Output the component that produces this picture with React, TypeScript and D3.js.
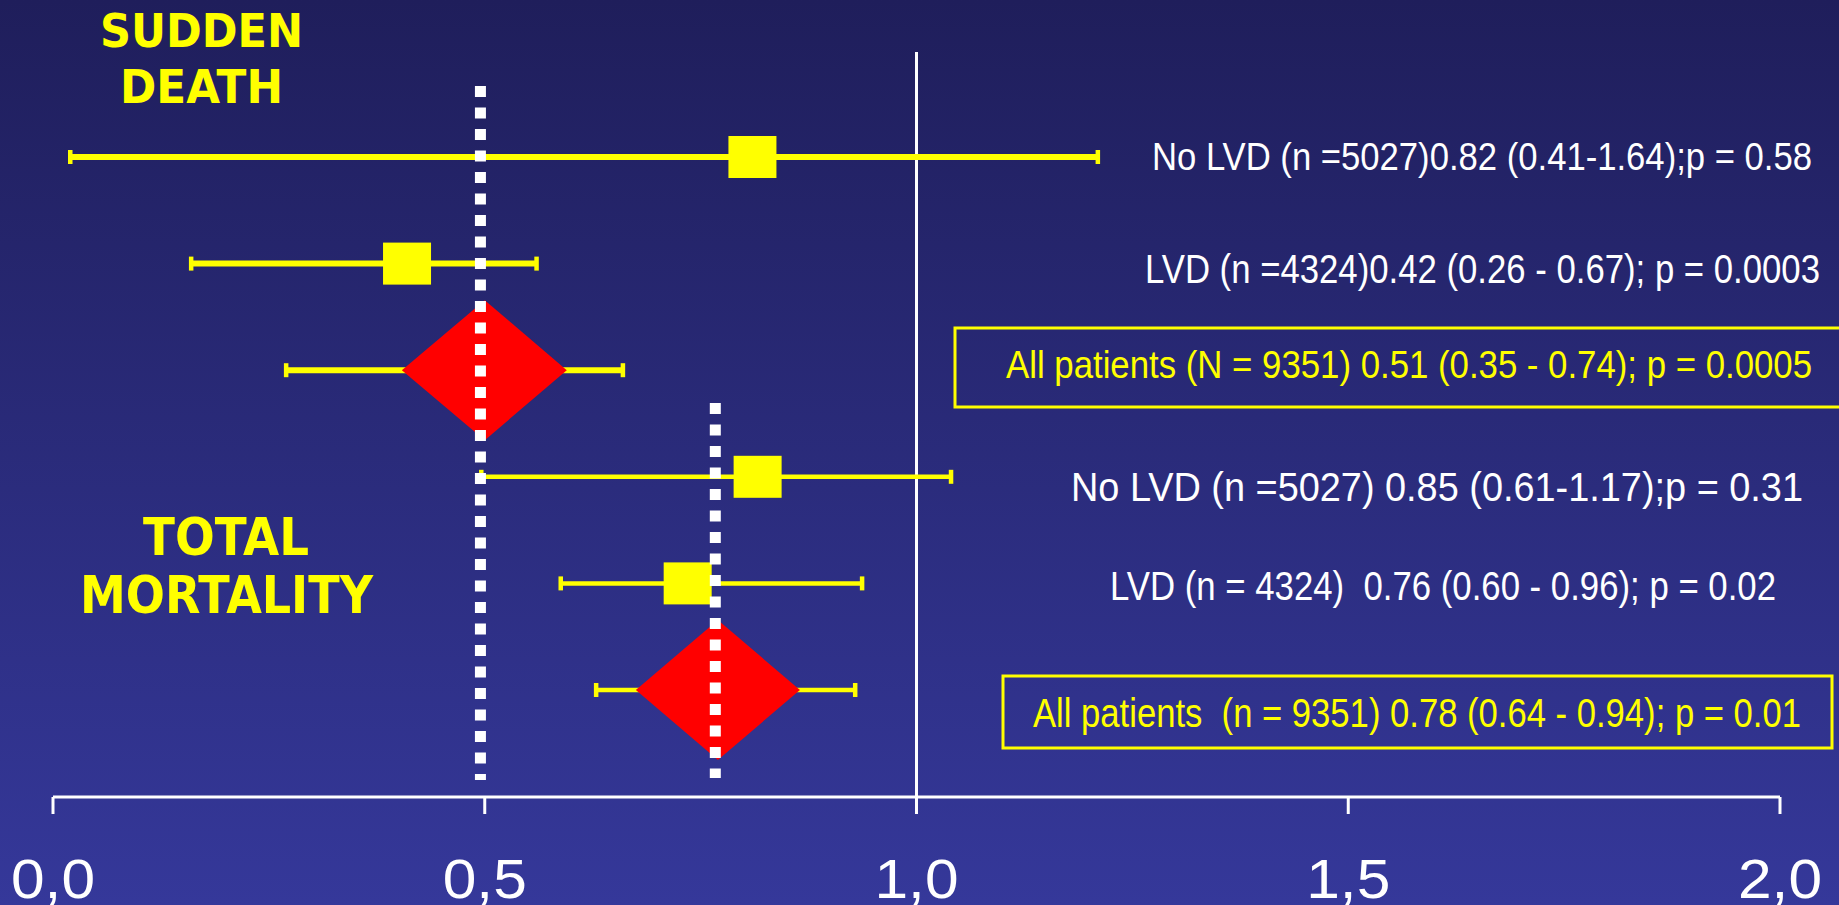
import React from "react";
import * as d3 from "d3";

const W = 1839;
const H = 905;

// forest plot rows, top to bottom
const rowIds = ["sdNoLvd", "sdLvd", "sdAll", "tmNoLvd", "tmLvd", "tmAll"];
const estimates = [0.81, 0.41, 0.5, 0.816, 0.735, 0.77];
const lowers = [0.02, 0.16, 0.27, 0.496, 0.588, 0.629];
const uppers = [1.21, 0.56, 0.66, 1.04, 0.937, 0.929];
const diamondLo = [null, null, 0.404, null, null, 0.675];
const diamondHi = [null, null, 0.595, null, null, 0.865];
const rowLabels = [
  "No LVD (n =5027)0.82 (0.41-1.64);p = 0.58",
  "LVD (n =4324)0.42 (0.26 - 0.67); p = 0.0003",
  "All patients (N = 9351) 0.51 (0.35 - 0.74); p = 0.0005",
  "No LVD (n =5027) 0.85 (0.61-1.17);p = 0.31",
  "LVD (n = 4324)  0.76 (0.60 - 0.96); p = 0.02",
  "All patients  (n = 9351) 0.78 (0.64 - 0.94); p = 0.01",
];
const xTicks = [0, 0.5, 1, 1.5, 2];
const tickLabels = ["0,0", "0,5", "1,0", "1,5", "2,0"];
const pooled = [0.495, 0.767];

export default function App() {
  const x = d3.scaleLinear().domain([0, 2]).range([53, 1780]);
  const y = d3.scalePoint<string>().domain(rowIds).range([157, 690]);

  // label placement (left edge, width, baseline offset from row)
  const labelX = [1152, 1145, 1006, 1071, 1110, 1033];
  const labelW = [660, 675, 806, 732, 666, 768];
  const labelDy = [13, 19, 8, 24, 17, 37];
  const labelFs = [39, 40, 39, 40, 41, 40];

  return (
    <svg
      width={W}
      height={H}
      style={{ position: "absolute", left: 0, top: 0, display: "block" }}
      fontFamily="'Liberation Sans', Arial, sans-serif"
    >
      <defs>
        <linearGradient id="bg" x1="0" y1="0" x2="0" y2="1">
          <stop offset="0%" stopColor="#1f1e5b" />
          <stop offset="100%" stopColor="#35389a" />
        </linearGradient>
      </defs>
      <rect width={W} height={H} fill="url(#bg)" />

      {/* group titles */}
      <g fill="#ffff00" fontFamily="'DejaVu Sans', sans-serif" fontWeight="bold">
        <text x={100} y={47} fontSize={46} textLength={203} lengthAdjust="spacingAndGlyphs">SUDDEN</text>
        <text x={120} y={103} fontSize={46} textLength={163} lengthAdjust="spacingAndGlyphs">DEATH</text>
        <text x={143} y={555} fontSize={52} textLength={166} lengthAdjust="spacingAndGlyphs">TOTAL</text>
        <text x={80} y={613} fontSize={52} textLength={293} lengthAdjust="spacingAndGlyphs">MORTALITY</text>
      </g>

      {/* line of no effect */}
      <line x1={x(1)} x2={x(1)} y1={52} y2={797} stroke="#fff" strokeWidth={3} />

      {/* axis */}
      <g stroke="#fff" strokeWidth={3}>
        <line x1={x(0)} x2={x(2)} y1={797} y2={797} />
        {xTicks.map(t => (
          <line key={t} x1={x(t)} x2={x(t)} y1={797} y2={814} />
        ))}
      </g>
      {xTicks.map((t, i) => (
        <text
          key={t}
          x={x(t) - 42}
          y={898}
          fontSize={56}
          fill="#fff"
          textLength={84}
          lengthAdjust="spacingAndGlyphs"
        >
          {tickLabels[i]}
        </text>
      ))}

      {/* whiskers */}
      {rowIds.map((id, i) => {
        const sw = i < 3 ? 6 : 4.5;
        const cy = y(id)!;
        return (
          <g key={id} stroke="#ffff00" strokeWidth={sw}>
            <line x1={x(lowers[i])} x2={x(uppers[i])} y1={cy} y2={cy} />
            <line x1={x(lowers[i])} x2={x(lowers[i])} y1={cy - 7} y2={cy + 7} strokeWidth={4.5} />
            <line x1={x(uppers[i])} x2={x(uppers[i])} y1={cy - 7} y2={cy + 7} strokeWidth={4.5} />
          </g>
        );
      })}

      {/* estimates: squares and pooled diamonds */}
      {rowIds.map((id, i) => {
        const cy = y(id)!;
        if (diamondLo[i] != null) {
          const pts = [
            [x(diamondLo[i]!), cy],
            [x(estimates[i]), cy - 70],
            [x(diamondHi[i]!), cy],
            [x(estimates[i]), cy + 70],
          ];
          return <polygon key={id} points={pts.map(p => p.join(",")).join(" ")} fill="#ff0000" />;
        }
        return (
          <rect key={id} x={x(estimates[i]) - 24} y={cy - 21} width={48} height={42} fill="#ffff00" />
        );
      })}

      {/* pooled estimate dotted lines */}
      <g stroke="#fff" strokeWidth={11} strokeDasharray="11 10.5">
        <line x1={x(pooled[0])} x2={x(pooled[0])} y1={86} y2={780} />
        <line x1={x(pooled[1])} x2={x(pooled[1])} y1={403} y2={778} />
      </g>

      {/* boxes around the pooled rows */}
      <rect x={955} y={328} width={900} height={79} fill="none" stroke="#ffff00" strokeWidth={3} />
      <rect x={1003} y={676} width={829} height={72} fill="none" stroke="#ffff00" strokeWidth={3} />

      {/* row labels */}
      {rowIds.map((id, i) => (
        <text
          key={id}
          x={labelX[i]}
          y={y(id)! + labelDy[i]}
          fontSize={labelFs[i]}
          fill={i === 2 || i === 5 ? "#ffff00" : "#fff"}
          textLength={labelW[i]}
          lengthAdjust="spacingAndGlyphs"
          style={{ whiteSpace: "pre" }}
        >
          {rowLabels[i]}
        </text>
      ))}
    </svg>
  );
}
